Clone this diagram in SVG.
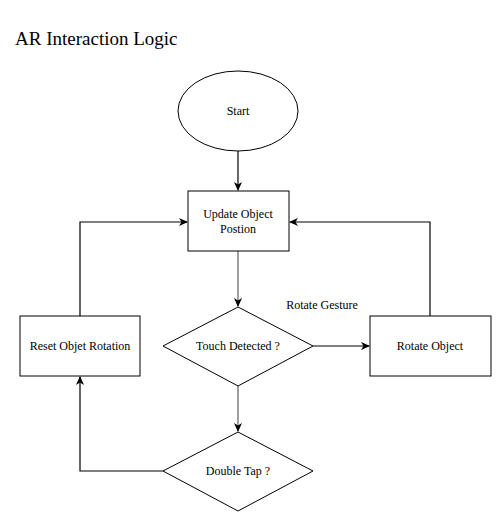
<svg xmlns="http://www.w3.org/2000/svg" width="501" height="512" viewBox="0 0 501 512">
<defs>
<marker id="arr" markerWidth="10" markerHeight="10" refX="8" refY="5" orient="auto" markerUnits="userSpaceOnUse">
<path d="M0,1 L9,5 L0,9 L2.5,5 Z" fill="#000"/>
</marker>
</defs>
<style>
.shape{fill:#fff;stroke:#000;stroke-width:1}
.edge{fill:none;stroke:#000;stroke-width:1.2}
.gray{stroke:#808080;stroke-width:1.5}
.lbl{font-family:'Times New Roman','Liberation Serif','DejaVu Serif',serif;font-size:12px;fill:#000;text-anchor:middle}
</style>
<rect width="501" height="512" fill="#fff"/>
<text x="15" y="45" style="font-family:'Times New Roman','Liberation Serif','DejaVu Serif',serif;font-size:19px" fill="#000">AR Interaction Logic</text>
<g id="connectors">
<path class="edge" d="M238,151 L238,190" marker-end="url(#arr)"/>
<path class="edge gray" d="M238,251 L238,306" marker-end="url(#arr)"/>
<path class="edge" d="M313,346 L369,346" marker-end="url(#arr)"/>
<path class="edge gray" d="M238,386 L238,431" marker-end="url(#arr)"/>
<path class="edge" d="M430,316 L430,222 L290,222" marker-end="url(#arr)"/>
<path class="edge" d="M80,316 L80,222 L187,222" marker-end="url(#arr)"/>
<path class="edge" d="M163,471 L80,471 L80,377" marker-end="url(#arr)"/>
<text class="lbl" x="322" y="309">Rotate Gesture</text>
</g>
<g id="start"><ellipse class="shape" cx="238" cy="111" rx="60" ry="40"/><text class="lbl" x="238" y="115">Start</text></g>
<g id="update"><rect class="shape" x="188" y="191" width="101" height="60"/><text class="lbl" x="238" y="218">Update Object</text><text class="lbl" x="238" y="233">Postion</text></g>
<g id="touch"><polygon class="shape" points="238,307 313,346 238,386 163,346"/><text class="lbl" x="238" y="350">Touch Detected ?</text></g>
<g id="reset"><rect class="shape" x="20" y="316" width="120" height="60"/><text class="lbl" x="80" y="350">Reset Objet Rotation</text></g>
<g id="rotate"><rect class="shape" x="370" y="316" width="121" height="60"/><text class="lbl" x="430" y="350">Rotate Object</text></g>
<g id="double"><polygon class="shape" points="238,432 313,471 238,511 163,471"/><text class="lbl" x="238" y="475">Double Tap ?</text></g>
</svg>
